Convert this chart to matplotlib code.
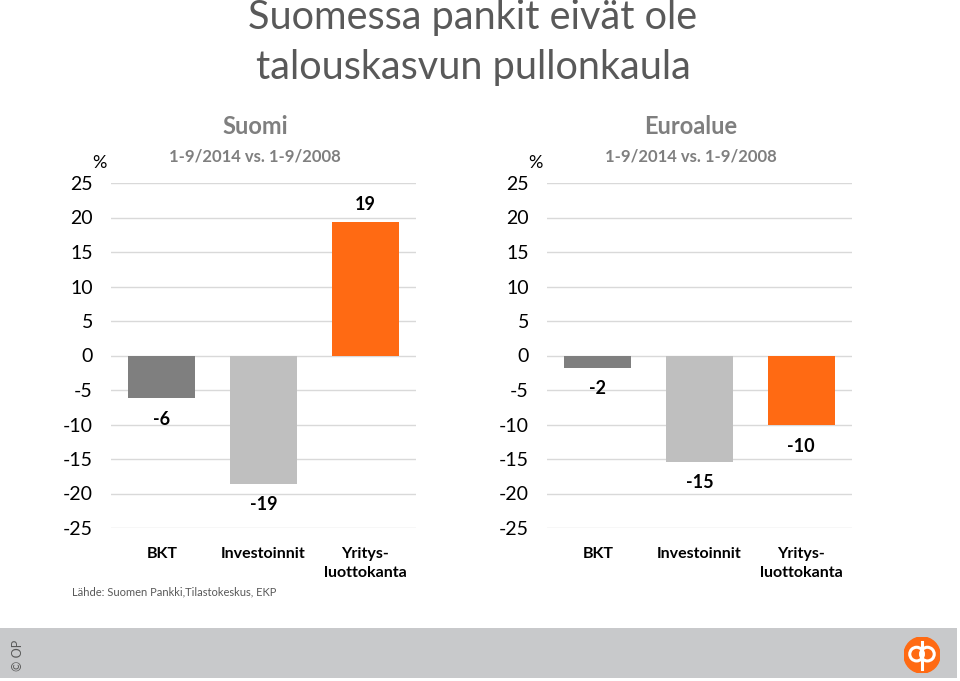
import matplotlib
matplotlib.use("Agg")
import matplotlib.pyplot as plt
from matplotlib.patches import Rectangle, Circle

plt.rcParams['font.family'] = ['Lato', 'DejaVu Sans']

# data
categories = ['BKT', 'Investoinnit', 'Yritys-\nluottokanta']
suomi_vals = [-6.2, -18.6, 19.4]
suomi_labels = ['-6', '-19', '19']
euro_vals = [-1.8, -15.4, -10.1]
euro_labels = ['-2', '-15', '-10']
bar_colors = ['#7f7f7f', '#bfbfbf', '#ff6a13']
yticks = [-25, -20, -15, -10, -5, 0, 5, 10, 15, 20, 25]

W, H = 960, 681
fig = plt.figure(figsize=(9.6, 6.81), dpi=100)

def px(x, y):
    return x / W, 1 - y / H

def panel(left, vals, labels, title):
    ax = fig.add_axes([left / W, 1 - 528 / H, 305 / W, 345 / H])
    x = range(len(vals))
    ax.bar(x, vals, width=0.66, color=bar_colors, zorder=3)
    for xi, v, lab in zip(x, vals, labels):
        if v >= 0:
            ax.annotate(lab, (xi, v), xytext=(0, 6), textcoords='offset points',
                        ha='center', va='bottom', fontsize=13, fontweight='bold')
        else:
            ax.annotate(lab, (xi, v), xytext=(0, -9), textcoords='offset points',
                        ha='center', va='top', fontsize=13, fontweight='bold')
    ax.set_xlim(-0.5, 2.5)
    ax.set_ylim(-25, 25)
    ax.set_yticks(yticks)
    ax.set_yticklabels([str(t) for t in yticks], fontsize=14)
    ax.set_xticks(list(x))
    ax.set_xticklabels(categories, fontsize=11.5, fontweight='bold', linespacing=1.4)
    ax.tick_params(axis='both', length=0)
    ax.tick_params(axis='x', pad=14)
    ax.tick_params(axis='y', pad=13)
    ax.grid(axis='y', color='#d9d9d9', linewidth=1, zorder=0)
    for s in ax.spines.values():
        s.set_visible(False)
    cx = left + 144
    fig.text(*px(cx, 127), title, ha='center', va='center', fontsize=17,
             fontweight='bold', color='#7f7f7f')
    fig.text(*px(cx, 156), '1-9/2014 vs. 1-9/2008', ha='center', va='center',
             fontsize=12, fontweight='bold', color='#7f7f7f')
    fig.text(*px(left - 12, 163), '%', ha='center', va='center', fontsize=13)
    return ax

panel(111, suomi_vals, suomi_labels, 'Suomi')
panel(547, euro_vals, euro_labels, 'Euroalue')

fig.text(*px(473, 18), 'Suomessa pankit eivät ole', ha='center', va='center',
         fontsize=28.5, color='#595959')
fig.text(*px(473, 68), 'talouskasvun pullonkaula', ha='center', va='center',
         fontsize=28.5, color='#595959')

fig.text(*px(72, 592), 'Lähde: Suomen Pankki,Tilastokeskus, EKP', ha='left',
         va='center', fontsize=8, color='#595959')

# footer band
fig.patches.append(Rectangle(px(0, 678), 957 / W, 50 / H, transform=fig.transFigure,
                             facecolor='#c8c9cb', edgecolor='none', zorder=-1))
fig.text(*px(18, 655), '© OP', rotation=90, ha='center', va='center',
         fontsize=9, color='#595959')
ax_logo = fig.add_axes([(904) / W, 1 - 673 / H, 36 / W, 36 / H])
ax_logo.set_zorder(5)
ax_logo.patch.set_visible(False)
ax_logo.set_xlim(-1, 1)
ax_logo.set_ylim(-1, 1)
ax_logo.set_aspect('equal')
ax_logo.axis('off')
ax_logo.add_patch(Circle((0, 0), 1, color='#ff6a13'))
ax_logo.add_patch(Circle((-0.3, 0.05), 0.38, fill=False, edgecolor='white', linewidth=2.2))
ax_logo.add_patch(Circle((0.3, 0.05), 0.38, fill=False, edgecolor='white', linewidth=2.2))
ax_logo.plot([0, 0], [-0.75, 0.75], color='white', linewidth=2.2)

fig.savefig('out.png', dpi=100)
